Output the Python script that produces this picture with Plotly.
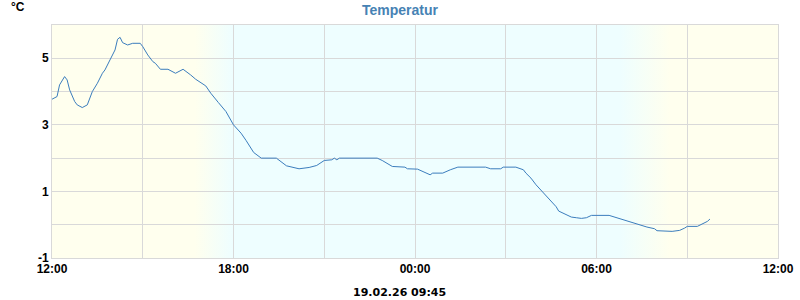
import base64
import plotly.graph_objects as go

# --- data -------------------------------------------------------------
times = [
    "2026-02-18 12:00", "2026-02-18 12:10", "2026-02-18 12:15", "2026-02-18 12:25",
    "2026-02-18 12:30", "2026-02-18 12:35", "2026-02-18 12:45", "2026-02-18 12:50",
    "2026-02-18 13:00", "2026-02-18 13:05", "2026-02-18 13:10", "2026-02-18 13:20",
    "2026-02-18 13:30", "2026-02-18 13:40", "2026-02-18 13:45", "2026-02-18 13:55",
    "2026-02-18 14:05", "2026-02-18 14:10", "2026-02-18 14:15", "2026-02-18 14:20",
    "2026-02-18 14:30", "2026-02-18 14:40", "2026-02-18 14:55", "2026-02-18 15:00",
    "2026-02-18 15:10", "2026-02-18 15:20", "2026-02-18 15:25", "2026-02-18 15:35",
    "2026-02-18 15:50", "2026-02-18 16:05", "2026-02-18 16:20", "2026-02-18 16:35",
    "2026-02-18 16:45", "2026-02-18 17:05", "2026-02-18 17:15", "2026-02-18 17:30",
    "2026-02-18 17:45", "2026-02-18 18:00", "2026-02-18 18:15", "2026-02-18 18:25",
    "2026-02-18 18:40", "2026-02-18 18:55", "2026-02-18 19:25", "2026-02-18 19:45",
    "2026-02-18 19:50", "2026-02-18 20:10", "2026-02-18 20:30", "2026-02-18 20:45",
    "2026-02-18 21:00", "2026-02-18 21:15", "2026-02-18 21:20", "2026-02-18 21:25",
    "2026-02-18 21:30", "2026-02-18 22:45", "2026-02-18 22:55", "2026-02-18 23:05",
    "2026-02-18 23:15", "2026-02-18 23:40", "2026-02-18 23:45", "2026-02-19 00:05",
    "2026-02-19 00:15", "2026-02-19 00:30", "2026-02-19 00:35", "2026-02-19 00:55",
    "2026-02-19 01:10", "2026-02-19 01:25", "2026-02-19 02:20", "2026-02-19 02:30",
    "2026-02-19 02:50", "2026-02-19 02:55", "2026-02-19 03:20", "2026-02-19 03:35",
    "2026-02-19 03:40", "2026-02-19 03:50", "2026-02-19 04:00", "2026-02-19 04:15",
    "2026-02-19 04:30", "2026-02-19 04:40", "2026-02-19 04:45", "2026-02-19 04:55",
    "2026-02-19 05:10", "2026-02-19 05:20", "2026-02-19 05:30", "2026-02-19 05:40",
    "2026-02-19 05:50", "2026-02-19 06:25", "2026-02-19 06:40", "2026-02-19 06:45",
    "2026-02-19 07:00", "2026-02-19 07:15", "2026-02-19 07:30", "2026-02-19 07:40",
    "2026-02-19 07:55", "2026-02-19 08:00", "2026-02-19 08:30", "2026-02-19 08:45",
    "2026-02-19 08:55", "2026-02-19 09:00", "2026-02-19 09:20", "2026-02-19 09:30",
    "2026-02-19 09:40", "2026-02-19 09:45",
]
temps = [
    3.77, 3.85, 4.20, 4.45,
    4.35, 4.05, 3.70, 3.60,
    3.52, 3.57, 3.60, 4.00,
    4.25, 4.55, 4.65, 4.95,
    5.25, 5.57, 5.63, 5.47,
    5.40, 5.45, 5.45, 5.35,
    5.10, 4.90, 4.85, 4.67,
    4.67, 4.55, 4.67, 4.50,
    4.37, 4.17, 3.95, 3.67,
    3.40, 3.00, 2.75, 2.53,
    2.17, 2.00, 2.00, 1.77,
    1.75, 1.68, 1.72, 1.78,
    1.93, 1.95, 2.00, 1.95,
    2.00, 2.00, 1.93, 1.83,
    1.75, 1.73, 1.68, 1.67,
    1.60, 1.50, 1.55, 1.55,
    1.65, 1.73, 1.73, 1.68,
    1.68, 1.73, 1.73, 1.65,
    1.55, 1.40, 1.20, 0.95,
    0.73, 0.54, 0.41, 0.33,
    0.23, 0.21, 0.19, 0.21,
    0.28, 0.28, 0.21, 0.19,
    0.10, 0.03, -0.02, -0.07,
    -0.12, -0.18, -0.20, -0.17,
    -0.10, -0.05, -0.05, 0.03,
    0.10, 0.17,
]

x_start = "2026-02-18 12:00"
x_end = "2026-02-19 12:00"
x_tickvals = ["2026-02-18 12:00", "2026-02-18 15:00", "2026-02-18 18:00", "2026-02-18 21:00",
              "2026-02-19 00:00", "2026-02-19 03:00", "2026-02-19 06:00", "2026-02-19 09:00",
              "2026-02-19 12:00"]
x_ticktext = ["12:00", "", "18:00", "", "00:00", "", "06:00", "", "12:00"]
y_tickvals = [-1, 0, 1, 2, 3, 4, 5, 6]
y_ticktext = ["-1", "", "1", "", "3", "", "5", ""]
y_min, y_max = -1, 6

title_text = "Temperatur"
unit_text = "°C"
stamp_text = "19.02.26 09:45"

# day / night background stops (fraction of the 24 h window)
bg_stops = [(0.0, "#FFFFEE"), (0.197, "#FFFFEE"), (0.249, "#EEFEFF"),
            (0.782, "#EEFEFF"), (0.851, "#FFFFEE"), (1.0, "#FFFFEE")]

# --- style ------------------------------------------------------------
GRID = "#D9D9D9"
LINE = "#3B7DBD"
FONT = "Liberation Sans, Arial, sans-serif"

stops_svg = "".join(f"<stop offset='{o}' stop-color='{c}'/>" for o, c in bg_stops)
svg = ("<svg xmlns='http://www.w3.org/2000/svg' width='1000' height='10' "
       "viewBox='0 0 1000 10' preserveAspectRatio='none'>"
       "<defs><linearGradient id='g' x1='0' x2='1' y1='0' y2='0'>" + stops_svg +
       "</linearGradient></defs><rect x='0' y='0' width='1000' height='10' fill='url(#g)'/></svg>")
bg_uri = "data:image/svg+xml;base64," + base64.b64encode(svg.encode()).decode()

fig = go.Figure()
fig.add_trace(go.Scatter(
    x=times, y=temps, mode="lines",
    line=dict(color=LINE, width=1),
    showlegend=False,
))

tickfont = dict(family=FONT, size=12, color="black", weight="bold")

fig.update_layout(
    width=800, height=300,
    margin=dict(l=52, r=22, t=25, b=42, autoexpand=False),
    paper_bgcolor="white", plot_bgcolor="white",
    font=dict(family=FONT, size=12, color="black"),
    title=dict(text=title_text, x=0.5, xanchor="center", y=1 - 10 / 300, yanchor="middle",
               font=dict(family=FONT, size=14, color="#4682B4", weight="bold")),
    xaxis=dict(type="date", range=[x_start, x_end], tickvals=x_tickvals, ticktext=x_ticktext,
               showgrid=True, gridcolor=GRID, gridwidth=1, zeroline=False,
               showline=True, linecolor=GRID, linewidth=1, mirror=True,
               ticks="", tickfont=tickfont, automargin=False),
    yaxis=dict(range=[y_min, y_max], tickvals=y_tickvals, ticktext=y_ticktext,
               showgrid=True, gridcolor=GRID, gridwidth=1, zeroline=False,
               showline=True, linecolor=GRID, linewidth=1, mirror=True,
               ticks="", tickfont=tickfont, automargin=False),
    images=[dict(source=bg_uri, xref="x", yref="y", x=x_start, y=y_max,
                 sizex=24 * 3600 * 1000, sizey=y_max - y_min, sizing="stretch",
                 xanchor="left", yanchor="top", layer="below")],
    annotations=[
        dict(text=unit_text, xref="paper", yref="paper", x=(18 - 52) / 726, y=(258 - 7) / 233,
             xanchor="center", yanchor="middle", showarrow=False,
             font=dict(family=FONT, size=12, color="black", weight="bold")),
        dict(text=stamp_text, xref="paper", yref="paper", x=(399 - 52) / 726, y=(258 - 292) / 233,
             xanchor="center", yanchor="middle", showarrow=False,
             font=dict(family="DejaVu Sans", size=11, color="black", weight="bold")),
    ],
)

fig.write_html("out.html")
